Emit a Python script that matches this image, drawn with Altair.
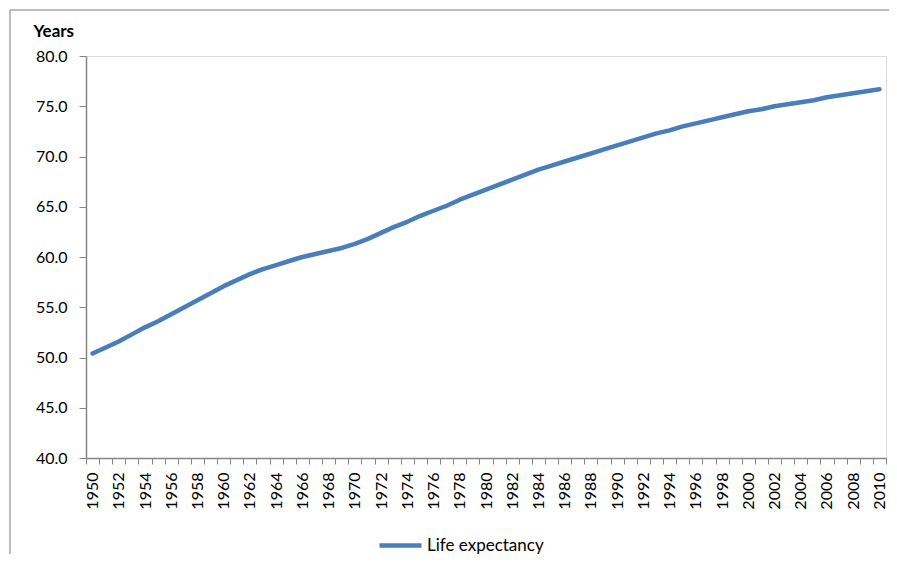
import altair as alt
import pandas as pd

years = list(range(1950, 2011))
life_expectancy = [
    50.4, 51.0, 51.6, 52.3, 53.0, 53.6, 54.3, 55.0, 55.7, 56.4,
    57.1, 57.7, 58.3, 58.8, 59.2, 59.6, 60.0, 60.3, 60.6, 60.9,
    61.3, 61.8, 62.4, 63.0, 63.5, 64.1, 64.6, 65.1, 65.7, 66.2,
    66.7, 67.2, 67.7, 68.2, 68.7, 69.1, 69.5, 69.9, 70.3, 70.7,
    71.1, 71.5, 71.9, 72.3, 72.6, 73.0, 73.3, 73.6, 73.9, 74.2,
    74.5, 74.7, 75.0, 75.2, 75.4, 75.6, 75.9, 76.1, 76.3, 76.5,
    76.7,
]
series_name = "Life expectancy"
y_ticks = [40.0, 45.0, 50.0, 55.0, 60.0, 65.0, 70.0, 75.0, 80.0]

df = pd.DataFrame({
    "year": [str(y) for y in years],
    "value": life_expectancy,
    "series": [series_name] * len(years),
})

AXIS_GRAY = "#868686"
BORDER_GRAY = "#A6A6A6"
FONT = "Lato"

line = alt.Chart(df).mark_line(
    strokeWidth=4.5, strokeCap="round", strokeJoin="round"
).encode(
    x=alt.X(
        "year:O",
        sort=None,
        scale=alt.Scale(type="band", paddingInner=0, paddingOuter=0),
        bandPosition=0.5,
        axis=alt.Axis(
            title=None,
            tickBand="extent",
            labelAngle=270,
            labelExpr="toNumber(datum.value) % 2 == 0 ? datum.value : ''",
            labelOverlap=False,
            labelFont=FONT,
            labelFontSize=16,
            labelColor="#000000",
            labelPadding=8,
            tickSize=6,
            tickColor=AXIS_GRAY,
            domainColor=AXIS_GRAY,
            domainWidth=1.5,
            tickWidth=1,
            grid=False,
        ),
    ),
    y=alt.Y(
        "value:Q",
        scale=alt.Scale(domain=[40, 80], nice=False, zero=False),
        axis=alt.Axis(
            values=y_ticks,
            format=".1f",
            title="Years",
            titleAngle=0,
            titleAlign="left",
            titleBaseline="alphabetic",
            titleX=-53,
            titleY=-20,
            titleFont=FONT,
            titleFontSize=17,
            titleFontWeight="bold",
            titleColor="#000000",
            labelFont=FONT,
            labelFontSize=16,
            labelColor="#000000",
            labelPadding=12,
            tickSize=7,
            tickColor=AXIS_GRAY,
            domainColor=AXIS_GRAY,
            domainWidth=1.5,
            grid=False,
        ),
    ),
    color=alt.Color(
        "series:N",
        scale=alt.Scale(range=["#4A7EBB"]),
        legend=alt.Legend(
            title=None,
            orient="none",
            legendX=291,
            legendY=466,
            symbolType="stroke",
            symbolSize=1764,
            symbolStrokeWidth=4.5,
            labelFont=FONT,
            labelFontSize=17,
            labelColor="#000000",
            labelOffset=3,
        ),
    ),
)

one = pd.DataFrame({"a": [0]})
border_top = alt.Chart(one).mark_rule(stroke=BORDER_GRAY, strokeWidth=1.5).encode(
    x=alt.value(-76), x2=alt.value(900), y=alt.value(-46)
)
border_left = alt.Chart(one).mark_rule(stroke=BORDER_GRAY, strokeWidth=1.5).encode(
    x=alt.value(-76), y=alt.value(-46), y2=alt.value(600)
)

chart = alt.layer(border_top, border_left, line).properties(
    width=800,
    height=402,
    padding={"left": 78, "top": 48, "right": 3, "bottom": 96},
    autosize=alt.AutoSizeParams(type="none"),
).configure_view(stroke=None).configure(font=FONT)

chart.save("out.html", embed_options={"renderer": "svg", "actions": False})
